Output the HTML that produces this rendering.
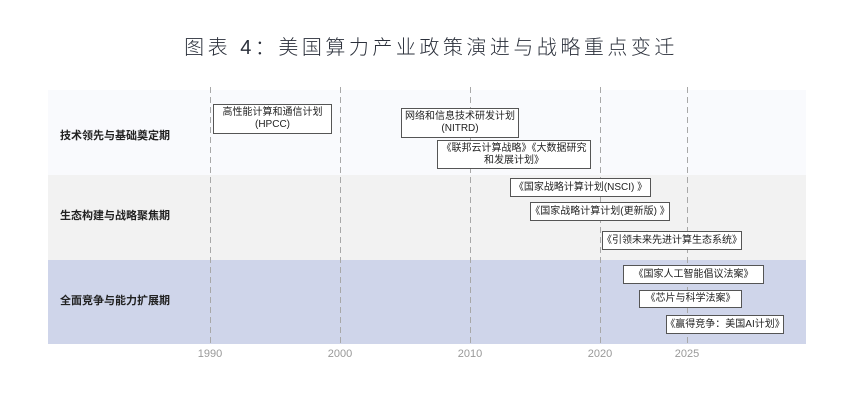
<!DOCTYPE html>
<html><head><meta charset="utf-8"><style>
body{margin:0;width:862px;height:415px;background:#fff;position:relative;overflow:hidden;font-family:"Liberation Sans","Noto Sans CJK SC",sans-serif}
.a{position:absolute}
.title{left:0;width:862px;top:34px;text-align:center;font-size:20px;letter-spacing:3.5px;color:#2a2f3a;font-weight:300;line-height:28px}
.band{left:48px;width:758px}
.dash{top:87px;height:258px;width:1px;background:repeating-linear-gradient(to bottom,#a8a8a8 0 6px,transparent 6px 10px)}
.yr{top:348px;font-size:11px;color:#999;width:40px;text-align:center}
.lab{left:60px;font-size:11px;color:#222;font-weight:bold;line-height:14px}
.box{background:#fff;border:1px solid #555;font-size:10px;color:#222;text-align:center;line-height:12px;box-sizing:border-box;display:flex;align-items:center;justify-content:center;flex-direction:column;white-space:nowrap}
</style></head><body>
<div class="a title">图表 4：美国算力产业政策演进与战略重点变迁</div>
<div class="a band" style="top:90px;height:85px;background:#f9fafd"></div>
<div class="a band" style="top:175px;height:85px;background:#f2f2f2"></div>
<div class="a band" style="top:260px;height:84px;background:#cfd5ea"></div>
<div class="a dash" style="left:210px"></div>
<div class="a dash" style="left:340px"></div>
<div class="a dash" style="left:470px"></div>
<div class="a dash" style="left:600px"></div>
<div class="a dash" style="left:687px"></div>
<div class="a yr" style="left:190px">1990</div>
<div class="a yr" style="left:320px">2000</div>
<div class="a yr" style="left:450px">2010</div>
<div class="a yr" style="left:580px">2020</div>
<div class="a yr" style="left:667px">2025</div>
<div class="a lab" style="top:129px">技术领先与基础奠定期</div>
<div class="a lab" style="top:209px">生态构建与战略聚焦期</div>
<div class="a lab" style="top:294px">全面竞争与能力扩展期</div>
<div class="a box" style="left:213px;top:104px;width:119px;height:30px"><span>高性能计算和通信计划</span><span>(HPCC)</span></div>
<div class="a box" style="left:401px;top:108px;width:118px;height:30px"><span>网络和信息技术研发计划</span><span>(NITRD)</span></div>
<div class="a box" style="left:437px;top:140px;width:154px;height:29px"><span>《联邦云计算战略》《大数据研究</span><span>和发展计划》</span></div>
<div class="a box" style="left:510px;top:178px;width:141px;height:19px">《国家战略计算计划(NSCI) 》</div>
<div class="a box" style="left:530px;top:202px;width:140px;height:19px">《国家战略计算计划(更新版) 》</div>
<div class="a box" style="left:602px;top:231px;width:140px;height:19px">《引领未来先进计算生态系统》</div>
<div class="a box" style="left:623px;top:265px;width:141px;height:19px">《国家人工智能倡议法案》</div>
<div class="a box" style="left:639px;top:290px;width:103px;height:18px">《芯片与科学法案》</div>
<div class="a box" style="left:666px;top:315px;width:118px;height:19px">《赢得竞争：美国AI计划》</div>
</body></html>
